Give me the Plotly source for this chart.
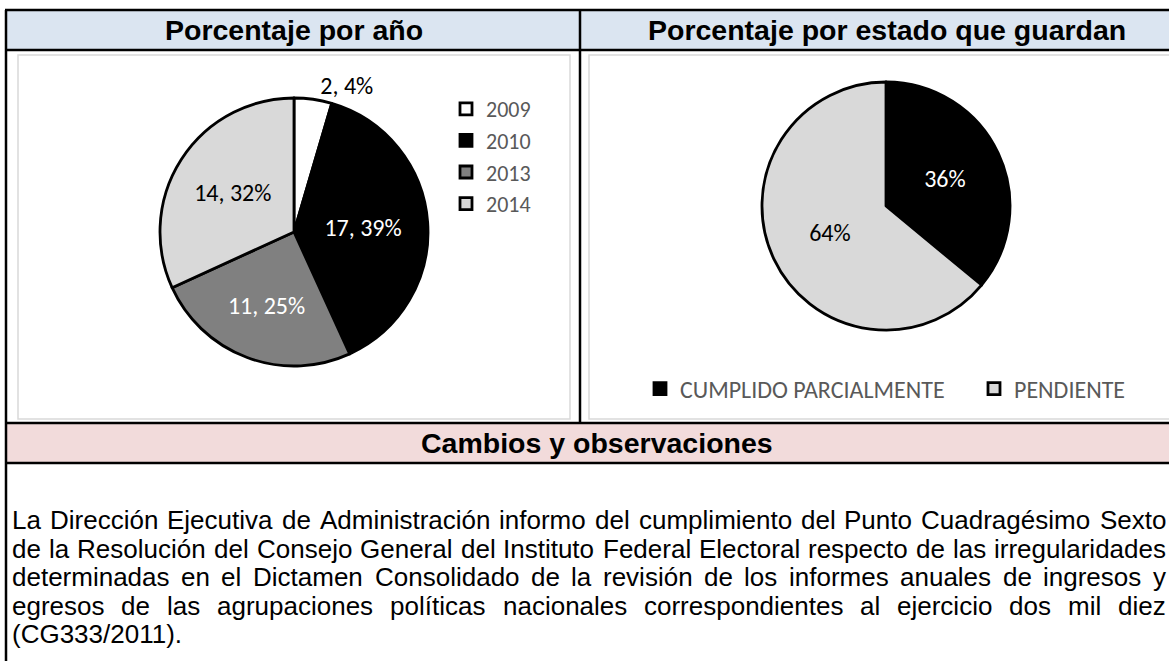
import plotly.graph_objects as go

# ---------------- data ----------------
years = ["2009", "2010", "2013", "2014"]
year_counts = [2, 17, 11, 14]
year_pct_labels = [4, 39, 25, 32]
year_colors = ["#FFFFFF", "#000000", "#808080", "#D9D9D9"]

status_labels = ["CUMPLIDO PARCIALMENTE", "PENDIENTE"]
status_pct = [36, 64]
status_colors = ["#000000", "#D9D9D9"]

title_left = "Porcentaje por año"
title_right = "Porcentaje por estado que guardan"
title_bottom = "Cambios y observaciones"

body_lines = [
    "La Dirección Ejecutiva de Administración informo del cumplimiento del Punto Cuadragésimo Sexto",
    "de la Resolución del Consejo General del Instituto Federal Electoral respecto de las irregularidades",
    "determinadas en el Dictamen Consolidado de la revisión de los informes anuales de ingresos y",
    "egresos de las agrupaciones políticas nacionales correspondientes al ejercicio dos mil diez",
    "(CG333/2011).",
]

# ---------------- layout helpers ----------------
W, H = 1169, 661
CHART_FONT = "Carlito, Lato, sans-serif"
TABLE_FONT = "Liberation Sans, Arial, sans-serif"
LABEL_SIZE = 24


def px(x):
    return x / W


def py(y):
    return 1 - y / H


# Arial / Liberation Sans advance widths (1/1000 em)
ARIAL = {" ": 278, "a": 556, "b": 556, "c": 500, "d": 556, "e": 556, "f": 278, "g": 556,
         "h": 556, "i": 222, "j": 222, "k": 500, "l": 222, "m": 833, "n": 556, "o": 556,
         "p": 556, "q": 556, "r": 333, "s": 500, "t": 278, "u": 556, "v": 500, "w": 722,
         "x": 500, "y": 500, "z": 500, "á": 556, "é": 556, "í": 278, "ó": 556, "ú": 556,
         "ñ": 556, "A": 667, "B": 667, "C": 722, "D": 722, "E": 667, "F": 611, "G": 778,
         "H": 722, "I": 278, "J": 500, "K": 667, "L": 556, "M": 833, "N": 722, "O": 778,
         "P": 667, "Q": 778, "R": 722, "S": 667, "T": 611, "U": 722, "V": 667, "W": 944,
         "X": 667, "Y": 667, "Z": 611, "(": 333, ")": 333, "/": 278, ".": 278, ",": 278}


def text_w(s, size):
    return sum(ARIAL.get(c, 556) for c in s) * size / 1000.0


fig = go.Figure()

fig.add_trace(go.Pie(
    labels=years, values=year_counts, text=[str(p) for p in year_pct_labels],
    texttemplate="%{value}, %{text}%",
    textposition=["outside", "inside", "inside", "inside"],
    insidetextorientation="horizontal", sort=False, direction="clockwise", rotation=0,
    marker=dict(colors=year_colors, line=dict(color="#000000", width=2.8)),
    textfont=dict(family=CHART_FONT, size=LABEL_SIZE, color=["#000000", "#FFFFFF", "#FFFFFF", "#000000"]),
    outsidetextfont=dict(family=CHART_FONT, size=LABEL_SIZE, color="#000000"),
    domain=dict(x=[px(160), px(428)], y=[py(366), py(98)]),
    legend="legend", hoverinfo="skip",
))

fig.add_trace(go.Pie(
    labels=status_labels, values=status_pct,
    texttemplate="%{percent:.0%}", textposition="inside",
    insidetextorientation="horizontal", sort=False, direction="clockwise", rotation=0,
    marker=dict(colors=status_colors, line=dict(color="#000000", width=2.8)),
    textfont=dict(family=CHART_FONT, size=LABEL_SIZE, color=["#FFFFFF", "#000000"]),
    domain=dict(x=[px(762), px(1010)], y=[py(330), py(82)]),
    legend="legend2", hoverinfo="skip",
))

shapes = []
# header fills
shapes.append(dict(type="rect", xref="paper", yref="paper", x0=px(5), x1=px(1200), y0=py(50), y1=py(10),
                   fillcolor="#DBE5F1", line=dict(width=0), layer="below"))
shapes.append(dict(type="rect", xref="paper", yref="paper", x0=px(5), x1=px(1200), y0=py(463), y1=py(423),
                   fillcolor="#F2DBDB", line=dict(width=0), layer="below"))
# inner chart frames
shapes.append(dict(type="rect", xref="paper", yref="paper", x0=px(18), x1=px(570), y0=py(419), y1=py(55),
                   fillcolor="rgba(0,0,0,0)", line=dict(color="#D9D9D9", width=1.5), layer="below"))
shapes.append(dict(type="rect", xref="paper", yref="paper", x0=px(589), x1=px(1185), y0=py(419), y1=py(55),
                   fillcolor="rgba(0,0,0,0)", line=dict(color="#D9D9D9", width=1.5), layer="below"))
# table borders
for yl in [10, 50, 423, 463]:
    shapes.append(dict(type="line", xref="paper", yref="paper", x0=px(5), x1=px(1200), y0=py(yl), y1=py(yl),
                       line=dict(color="#000000", width=2.5), layer="below"))
shapes.append(dict(type="line", xref="paper", yref="paper", x0=px(6), x1=px(6), y0=py(10), y1=py(670),
                   line=dict(color="#000000", width=2.5), layer="below"))
shapes.append(dict(type="line", xref="paper", yref="paper", x0=px(580), x1=px(580), y0=py(10), y1=py(423),
                   line=dict(color="#000000", width=2.5), layer="below"))

annotations = []
for txt, xc, yc in [(title_left, 294, 30), (title_right, 887, 30), (title_bottom, 597, 443)]:
    annotations.append(dict(text="<b>%s</b>" % txt, x=px(xc), y=py(yc), xref="paper", yref="paper",
                            xanchor="center", yanchor="middle", showarrow=False,
                            font=dict(family=TABLE_FONT, size=28.5, color="#000000")))

BODY_SIZE = 26
L, R = 11, 1165
body_y = [520, 549, 577, 606, 634]
for i, line in enumerate(body_lines):
    words = line.split()
    yy = py(body_y[i])
    if i < len(body_lines) - 1 and len(words) > 1:
        widths = [text_w(w, BODY_SIZE) for w in words]
        gap = (R - L - sum(widths)) / (len(words) - 1)
        x = L
        for w, wd in zip(words, widths):
            annotations.append(dict(text=w, x=px(x), y=yy, xref="paper", yref="paper",
                                    xanchor="left", yanchor="middle", showarrow=False,
                                    borderpad=0, font=dict(family=TABLE_FONT, size=BODY_SIZE, color="#000000")))
            x += wd + gap
    else:
        annotations.append(dict(text=line, x=px(L), y=yy, xref="paper", yref="paper",
                                xanchor="left", yanchor="middle", showarrow=False,
                                borderpad=0, font=dict(family=TABLE_FONT, size=BODY_SIZE, color="#000000")))

fig.update_layout(
    width=W, height=H, margin=dict(l=0, r=0, t=0, b=0, autoexpand=False),
    paper_bgcolor="#FFFFFF", plot_bgcolor="#FFFFFF",
    shapes=shapes, annotations=annotations,
    legend=dict(x=px(446), y=py(88), xanchor="left", yanchor="top", traceorder="normal",
                font=dict(family=CHART_FONT, size=22, color="#595959"), bgcolor="rgba(0,0,0,0)"),
    legend2=dict(orientation="h", x=px(640), y=py(389), xanchor="left", yanchor="middle",
                 entrywidth=289, entrywidthmode="pixels",
                 font=dict(family=CHART_FONT, size=LABEL_SIZE, color="#595959"), bgcolor="rgba(0,0,0,0)"),
)

fig.write_html("out.html", config={"displayModeBar": False},
               post_script="document.body.style.margin='0px';")
